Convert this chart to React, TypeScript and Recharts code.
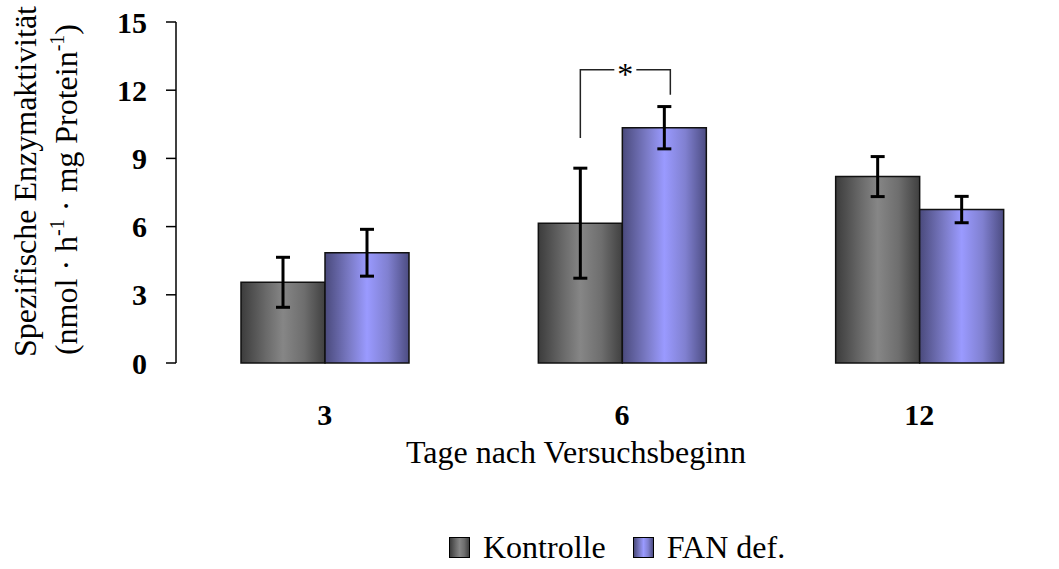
import React from "react";
import { BarChart, Bar, XAxis, YAxis, ErrorBar, Legend, LabelList } from "recharts";

const days = ["3", "6", "12"];
const kontrolle = [3.55, 6.15, 8.2];
const kontrolleErr = [1.1, 2.42, 0.88];
const fanDef = [4.85, 10.35, 6.75];
const fanDefErr = [1.03, 0.93, 0.58];
const yTicks = [0, 3, 6, 9, 12, 15];
const dayEdges = [0, 1, 2, 3];
const seriesOrder = ["kontrolle", "fan"];

// significance bracket between the two bars of day 6
const sigDay = "6";
const sigTop = 12.9;
const sigLeftFrom = 9.9;
const sigRightFrom = 11.8;

const data = days.map((day, i) => ({
  day,
  kontrolle: kontrolle[i],
  kontrolleErr: kontrolleErr[i],
  fan: fanDef[i],
  fanErr: fanDefErr[i],
}));

const serif = "'Liberation Serif', 'Times New Roman', serif";

const swatches: Record<string, string> = {
  kontrolle:
    "linear-gradient(to right, #3c3c3c 0%, #6a6a6a 30%, #868686 50%, #6e6e6e 75%, #404040 100%)",
  fan: "linear-gradient(to right, #4a4a7c 0%, #7c7cc8 30%, #9a9aff 50%, #8080d0 75%, #4c4c82 100%)",
};

const YTitle = ({ viewBox }: any) => {
  const cy = viewBox.y + viewBox.height / 2;
  return (
    <g fontFamily={serif} fontSize={32} fill="#000">
      <text transform={`translate(${viewBox.x + 36}, ${cy - 11}) rotate(-90)`} textAnchor="middle">
        Spezifische Enzymaktivität
      </text>
      <text transform={`translate(${viewBox.x + 77}, ${cy - 3}) rotate(-90)`} textAnchor="middle">
        {"(nmol · h"}
        <tspan dy={-13} fontSize={20}>-1</tspan>
        <tspan dy={13}>{" · mg Protein"}</tspan>
        <tspan dy={-13} fontSize={20}>-1</tspan>
        <tspan dy={13}>)</tspan>
      </text>
    </g>
  );
};

const XTitle = ({ viewBox }: any) => (
  <text x={viewBox.x + 400} y={viewBox.y + 100} textAnchor="middle" fontFamily={serif} fontSize={32} fill="#000">
    Tage nach Versuchsbeginn
  </text>
);

const DayTick = ({ x, y, payload }: any) => (
  <text x={x} y={y} dy={62} textAnchor="middle" fontFamily={serif} fontWeight="bold" fontSize={30} fill="#000">
    {payload.value}
  </text>
);

const Bracket = (props: any) => {
  const { x, y, width, height, value, index } = props;
  if (days[index] !== sigDay || !value) return null;
  const per = height / value;
  const base = y + height;
  const py = (v: number) => base - v * per;
  const left = x - width / 2;
  const right = x + width / 2 + 6;
  const mid = (left + right) / 2;
  const top = py(sigTop);
  return (
    <g stroke="#222" strokeWidth={1.5} fill="none">
      <polyline points={`${left},${py(sigLeftFrom)} ${left},${top} ${mid - 11},${top}`} />
      <polyline points={`${mid + 11},${top} ${right},${top} ${right},${py(sigRightFrom)}`} />
      <text x={mid} y={top + 15} textAnchor="middle" fontFamily={serif} fontSize={32} fill="#000" stroke="none">
        *
      </text>
    </g>
  );
};

const renderLegend = ({ payload }: any) => (
  <div style={{ height: 40, display: "flex", paddingLeft: 449, boxSizing: "border-box", fontFamily: serif }}>
    {(payload || []).map((entry: any) => (
      <div key={entry.value} style={{ display: "flex", alignItems: "flex-start", marginRight: 27 }}>
        <span
          style={{
            display: "inline-block",
            width: 19,
            height: 19,
            border: "1px solid #000",
            background: swatches[entry.dataKey],
            marginTop: 8,
            marginRight: 13,
          }}
        />
        <span style={{ fontSize: 32, lineHeight: "32px", marginTop: 2, color: "#000" }}>{entry.value}</span>
      </div>
    ))}
  </div>
);

export default function App() {
  return (
    <div style={{ width: 1059, height: 569, overflow: "hidden", background: "#fff" }}>
      <style>{"html,body{margin:0;overflow:hidden;background:#fff}"}</style>
      <BarChart
        width={1090}
        height={569}
        data={data}
        margin={{ top: 22, right: 22, bottom: 0, left: 0 }}
        barGap={0}
      >
        <defs>
          <linearGradient id="gradK" x1="0" y1="0" x2="1" y2="0">
            <stop offset="0%" stopColor="#3c3c3c" />
            <stop offset="30%" stopColor="#6a6a6a" />
            <stop offset="50%" stopColor="#868686" />
            <stop offset="75%" stopColor="#6e6e6e" />
            <stop offset="100%" stopColor="#404040" />
          </linearGradient>
          <linearGradient id="gradF" x1="0" y1="0" x2="1" y2="0">
            <stop offset="0%" stopColor="#4a4a7c" />
            <stop offset="30%" stopColor="#7c7cc8" />
            <stop offset="50%" stopColor="#9a9aff" />
            <stop offset="75%" stopColor="#8080d0" />
            <stop offset="100%" stopColor="#4c4c82" />
          </linearGradient>
        </defs>
        <XAxis
          type="number"
          domain={[0, 3]}
          ticks={dayEdges}
          allowDataOverflow
          height={0}
          tick={false}
          tickSize={10}
          axisLine={{ stroke: "#000", strokeWidth: 1.5 }}
          tickLine={{ stroke: "#000", strokeWidth: 1.5 }}
        />
        <XAxis
          xAxisId="day"
          dataKey="day"
          height={166}
          axisLine={false}
          tickLine={false}
          tickSize={0}
          tickMargin={0}
          interval={0}
          tick={<DayTick />}
          label={(p: any) => <XTitle {...p} />}
        />
        <YAxis
          domain={[0, 15]}
          ticks={yTicks}
          interval={0}
          width={176}
          tickSize={10}
          tickMargin={19}
          axisLine={{ stroke: "#000", strokeWidth: 1.5 }}
          tickLine={{ stroke: "#000", strokeWidth: 1.5 }}
          tick={{ fill: "#000", fontSize: 30, fontWeight: "bold", fontFamily: serif }}
          label={(p: any) => <YTitle {...p} />}
        />
        <Legend
          verticalAlign="bottom"
          content={renderLegend}
          itemSorter={(item: any) => seriesOrder.indexOf(item.dataKey)}
        />
        <Bar
          xAxisId="day"
          dataKey="kontrolle"
          name="Kontrolle"
          fill="url(#gradK)"
          stroke="#111"
          strokeWidth={1.5}
          barSize={84}
          isAnimationActive={false}
        >
          <ErrorBar dataKey="kontrolleErr" width={7} stroke="#000" strokeWidth={3} />
        </Bar>
        <Bar
          xAxisId="day"
          dataKey="fan"
          name="FAN def."
          fill="url(#gradF)"
          stroke="#111"
          strokeWidth={1.5}
          barSize={84}
          isAnimationActive={false}
        >
          <ErrorBar dataKey="fanErr" width={7} stroke="#000" strokeWidth={3} />
          <LabelList dataKey="fan" content={(p: any) => <Bracket {...p} />} />
        </Bar>
      </BarChart>
    </div>
  );
}
